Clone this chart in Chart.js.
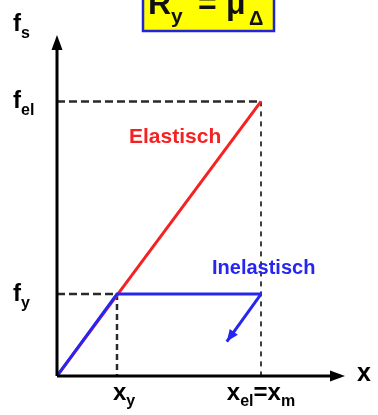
<!DOCTYPE html>
<html>
<head>
<meta charset="utf-8">
<script src="https://cdn.jsdelivr.net/npm/chart.js@4"></script>
<style>
  html, body { margin: 0; padding: 0; background: #fff; }
  #c { display: block; }
</style>
</head>
<body>
<canvas id="c" width="378" height="415"></canvas>
<script>
/* data, in abstract units: x_y = 1, f_y = 1 */
const elasticX = [0, 3.4];
const elasticY = [0, 3.35];
const inelasticX = [0, 1, 3.4];
const inelasticY = [0, 1, 1];
const unloadX = [3.4, 2.83];
const unloadY = [1, 0.42];

const xTickVals = [1, 3.4];
const xTickLabels = [[['x', 0], ['y', 1]], [['x', 0], ['el', 1], ['=', 0], ['x', 0], ['m', 1]]];
const yTickVals = [1, 3.35];
const yTickLabels = [[['f', 0], ['y', 1]], [['f', 0], ['el', 1]]];

const RED = '#f42222';
const BLUE = '#2626f0';
const FONT = "'Liberation Sans', Arial, sans-serif";

function pts(xs, ys) { return xs.map((x, i) => ({ x: x, y: ys[i] })); }

function partsWidth(ctx, parts, big, small) {
  let w = 0;
  parts.forEach(p => {
    ctx.font = 'bold ' + (p[1] ? small : big) + 'px ' + FONT;
    w += ctx.measureText(p[0]).width;
  });
  return w;
}

function drawParts(ctx, parts, x, base, big, small, drop) {
  parts.forEach(p => {
    ctx.font = 'bold ' + (p[1] ? small : big) + 'px ' + FONT;
    ctx.fillText(p[0], x, p[1] ? base + drop : base);
    x += ctx.measureText(p[0]).width;
  });
}

function arrowHead(ctx, x1, y1, x2, y2, len, half) {
  const a = Math.atan2(y2 - y1, x2 - x1);
  ctx.beginPath();
  ctx.moveTo(x2, y2);
  ctx.lineTo(x2 - len * Math.cos(a) + half * Math.sin(a), y2 - len * Math.sin(a) - half * Math.cos(a));
  ctx.lineTo(x2 - len * Math.cos(a) - half * Math.sin(a), y2 - len * Math.sin(a) + half * Math.cos(a));
  ctx.closePath();
  ctx.fill();
}

const sketch = {
  id: 'sketch',
  afterDatasetsDraw(chart) {
    const ctx = chart.ctx;
    const xs = chart.scales.x, ys = chart.scales.y;
    const ox = xs.getPixelForValue(0), oy = ys.getPixelForValue(0);
    const top = chart.chartArea.top, right = chart.chartArea.right;
    ctx.save();

    // axes with arrows
    ctx.strokeStyle = '#000';
    ctx.fillStyle = '#000';
    ctx.lineWidth = 3;
    ctx.beginPath();
    ctx.moveTo(ox, oy);
    ctx.lineTo(ox, top + 10);
    ctx.moveTo(ox, oy);
    ctx.lineTo(right - 10, oy);
    ctx.stroke();
    arrowHead(ctx, ox, oy, ox, top, 15, 5.5);
    arrowHead(ctx, ox, oy, right, oy, 15, 5.5);

    // unloading arrow head
    ctx.fillStyle = BLUE;
    const u0x = xs.getPixelForValue(unloadX[0]), u0y = ys.getPixelForValue(unloadY[0]);
    const u1x = xs.getPixelForValue(unloadX[1]), u1y = ys.getPixelForValue(unloadY[1]);
    arrowHead(ctx, u0x, u0y, u1x, u1y, 12, 5);

    // axis labels
    ctx.fillStyle = '#000';
    ctx.textBaseline = 'alphabetic';
    ctx.textAlign = 'left';
    drawParts(ctx, [['f', 0], ['s', 1]], 13, top - 4, 24, 16, 7);
    drawParts(ctx, [['x', 0]], right + 12, oy + 5, 25, 16, 0);

    yTickVals.forEach((v, i) => {
      drawParts(ctx, yTickLabels[i], 13, ys.getPixelForValue(v) + 7, 24, 16, 7);
    });
    xTickVals.forEach((v, i) => {
      const px = xs.getPixelForValue(v);
      const w = partsWidth(ctx, xTickLabels[i], 24, 16);
      const start = i === 0 ? px - 4 : px - w / 2;
      drawParts(ctx, xTickLabels[i], start, oy + 24, 24, 16, 6);
    });

    // series labels
    ctx.font = 'bold 21px ' + FONT;
    ctx.fillStyle = RED;
    ctx.fillText('Elastisch', 129, 143);
    ctx.font = 'bold 20px ' + FONT;
    ctx.fillStyle = BLUE;
    ctx.fillText('Inelastisch', 212, 274);

    // title box
    ctx.fillStyle = '#ffff00';
    ctx.fillRect(143, -4, 131, 35);
    ctx.strokeStyle = '#2323d8';
    ctx.lineWidth = 2.5;
    ctx.strokeRect(143, -4, 131, 35);
    ctx.fillStyle = '#111';
    drawParts(ctx, [['R', 0], ['y', 1]], 148, 14, 32, 21, 9);
    ctx.font = 'bold 32px ' + FONT;
    ctx.fillText('=', 198, 14);
    ctx.fillText('\u03bc', 226, 14);
    ctx.font = 'bold 20px ' + FONT;
    ctx.fillText('\u0394', 249, 25);

    ctx.restore();
  }
};

function dash(xs, ys, width, pattern) {
  return { data: pts(xs, ys), borderColor: '#2a2a2a', borderWidth: width, borderDash: pattern, pointRadius: 0 };
}

new Chart(document.getElementById('c'), {
  type: 'scatter',
  data: {
    datasets: [
      dash([0, elasticX[1]], [elasticY[1], elasticY[1]], 2.5, [8, 4]),
      dash([elasticX[1], elasticX[1]], [elasticY[1], 0], 1.8, [5, 5]),
      dash([0, inelasticX[1]], [inelasticY[1], inelasticY[1]], 2.5, [8, 4]),
      dash([inelasticX[1], inelasticX[1]], [inelasticY[1], 0], 2.5, [6, 4]),
      { data: pts(elasticX, elasticY), borderColor: RED, borderWidth: 3, pointRadius: 0, order: 2 },
      { data: pts(inelasticX, inelasticY), borderColor: BLUE, borderWidth: 3, pointRadius: 0, order: 1 },
      { data: pts(unloadX, unloadY), borderColor: BLUE, borderWidth: 3, pointRadius: 0, order: 1 }
    ].map(d => Object.assign({ showLine: true, fill: false, tension: 0, order: 3 }, d))
  },
  options: {
    responsive: false,
    animation: false,
    layout: { padding: { left: 57, right: 33, top: 35, bottom: 39 } },
    plugins: { legend: { display: false }, tooltip: { enabled: false } },
    scales: {
      x: { type: 'linear', min: 0, max: 4.8, display: false },
      y: { type: 'linear', min: 0, max: 4.16, display: false }
    }
  },
  plugins: [sketch]
});
</script>
</body>
</html>
